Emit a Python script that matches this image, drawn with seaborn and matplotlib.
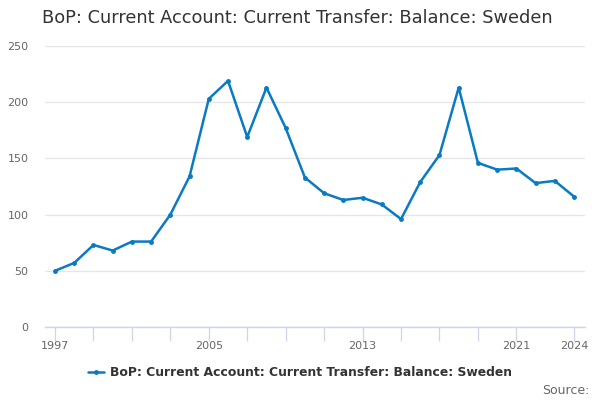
import pandas as pd
import seaborn as sns
import matplotlib.pyplot as plt

# values
years = list(range(1997, 2025))
balance = [50, 57, 73, 68, 76, 76, 100, 134, 203, 219, 169, 213, 177, 133,
           119, 113, 115, 109, 96, 129, 153, 213, 146, 140, 141, 128, 130, 116]
tick_years = [1997, 1999, 2001, 2003, 2005, 2007, 2009, 2011, 2013, 2015,
              2017, 2019, 2021, 2024]
label_years = [1997, 2005, 2013, 2021, 2024]
series_name = 'BoP: Current Account: Current Transfer: Balance: Sweden'

df = pd.DataFrame({'year': years, 'value': balance})

sns.set_style('white')
plt.rcParams['font.family'] = ['DejaVu Sans']

fig = plt.figure(figsize=(6, 4), dpi=100)
ax = fig.add_axes([0.075, 0.1825, 0.9, 0.7025])

sns.lineplot(data=df, x='year', y='value', ax=ax, color='#0a7ac2',
             linewidth=1.8, marker='o', markersize=3.5, markeredgewidth=0,
             label=series_name)

ax.set_xlim(1996.48, 2024.57)
ax.set_ylim(0, 250)
ax.set_yticks([0, 50, 100, 150, 200, 250])
ax.yaxis.grid(True, color='#e6e6e6', linewidth=0.9)
ax.set_xticks(tick_years)
ax.set_xticklabels([str(y) if y in label_years else '' for y in tick_years])
ax.tick_params(axis='x', bottom=True, direction='out', length=10, width=0.9,
               color='#ccd6eb', labelsize=8, labelcolor='#666666', pad=0)
ax.tick_params(axis='y', left=False, length=0, labelsize=8,
               labelcolor='#666666', pad=12)
ax.set_xlabel('')
ax.set_ylabel('')
for s in ['top', 'right', 'left']:
    ax.spines[s].set_visible(False)
ax.spines['bottom'].set_color('#ccd6eb')
ax.spines['bottom'].set_linewidth(1)

# legend centred on the figure, not the axes
leg = ax.legend(loc='center', bbox_to_anchor=(0.5, 0.0675),
                bbox_transform=fig.transFigure, frameon=False,
                handlelength=1.3, handletextpad=0.5, fontsize=8.9)
for t in leg.get_texts():
    t.set_fontweight('bold')
    t.set_color('#333333')

fig.text(0.07, 0.955, 'BoP: Current Account: Current Transfer: Balance: Sweden',
         fontsize=12.8, color='#333333', va='center', ha='left')
fig.text(0.982, 0.025, 'Source:', fontsize=9, color='#666666',
         ha='right', va='center')

fig.savefig('out.png', dpi=100)
